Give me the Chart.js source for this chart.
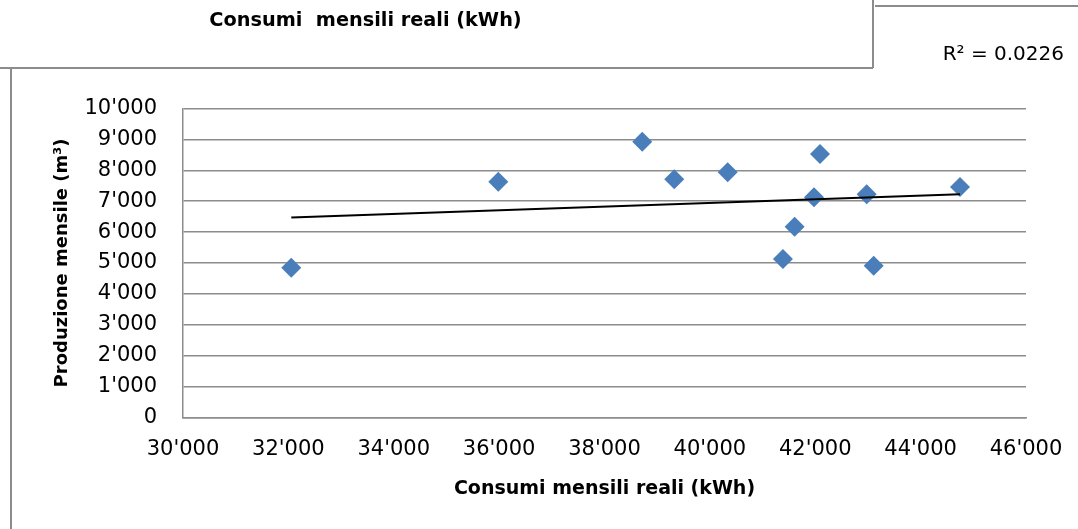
<!DOCTYPE html>
<html>
<head>
<meta charset="utf-8">
<script src="https://cdn.jsdelivr.net/npm/chart.js@4/dist/chart.umd.min.js"></script>
<style>
  html, body { margin: 0; padding: 0; background: #ffffff; }
  #wrap { width: 1078px; height: 529px; position: relative; }
</style>
</head>
<body>
<div id="wrap"><canvas id="c" width="1078" height="529"></canvas></div>
<script>
// ---- data ----
const consumi = [32055, 35984, 38717, 39324, 40338, 41387, 41609, 41976, 42090, 42976, 43109, 44747];
const produzione = [4848, 7630, 8926, 7709, 7935, 5129, 6175, 7126, 8528, 7223, 4913, 7460];
const xTicks = [30000, 32000, 34000, 36000, 38000, 40000, 42000, 44000, 46000];
const yTicks = [0, 1000, 2000, 3000, 4000, 5000, 6000, 7000, 8000, 9000, 10000];
const chartTitle = 'Consumi  mensili reali (kWh)';
const xTitle = 'Consumi mensili reali (kWh)';
const yTitle = 'Produzione mensile (m³)';
const r2Label = 'R² = 0.0226';

// linear trend (least squares) from the data
function linFit(xs, ys) {
  const n = xs.length;
  const mx = xs.reduce((a, b) => a + b, 0) / n;
  const my = ys.reduce((a, b) => a + b, 0) / n;
  let sxy = 0, sxx = 0;
  for (let i = 0; i < n; i++) { sxy += (xs[i] - mx) * (ys[i] - my); sxx += (xs[i] - mx) ** 2; }
  const b = sxy / sxx;
  return { a: my - b * mx, b };
}
const fit = linFit(consumi, produzione);
const xMin = Math.min(...consumi), xMax = Math.max(...consumi);
const trend = [{ x: xMin, y: fit.a + fit.b * xMin }, { x: xMax, y: fit.a + fit.b * xMax }];

const fmt = v => Math.round(v).toString().replace(/\B(?=(\d{3})+(?!\d))/g, "'");

const FONT = 'DejaVu Sans';

const decor = {
  id: 'decor',
  beforeDraw(chart) {
    const ctx = chart.ctx;
    ctx.save();
    ctx.fillStyle = '#ffffff';
    ctx.fillRect(0, 0, chart.width, chart.height);
    ctx.restore();
  },
  afterDraw(chart) {
    const ctx = chart.ctx;
    ctx.save();
    ctx.strokeStyle = '#8c8c8c';
    ctx.lineWidth = 2;
    ctx.beginPath();
    ctx.moveTo(0, 68); ctx.lineTo(873, 68);
    ctx.moveTo(873, 0); ctx.lineTo(873, 68);
    ctx.moveTo(875, 6); ctx.lineTo(1078, 6);
    ctx.moveTo(11, 68); ctx.lineTo(11, 529);
    ctx.stroke();
    ctx.fillStyle = '#000000';
    ctx.font = 'bold 19.3px "' + FONT + '"';
    ctx.textAlign = 'center';
    ctx.textBaseline = 'middle';
    ctx.fillText(chartTitle, 365.5, 21);
    ctx.font = '20px "' + FONT + '"';
    ctx.textAlign = 'right';
    ctx.fillText(r2Label, 1064, 55);
    ctx.restore();
  }
};

new Chart(document.getElementById('c'), {
  type: 'scatter',
  data: {
    datasets: [
      {
        label: 'Produzione',
        data: consumi.map((x, i) => ({ x, y: produzione[i] })),
        pointStyle: 'rectRot',
        pointRadius: 10,
        pointHoverRadius: 10,
        backgroundColor: '#4A7EBB',
        borderColor: '#4A7EBB',
        borderWidth: 0,
        order: 1
      },
      {
        type: 'line',
        label: 'Trend',
        data: trend,
        borderColor: '#000000',
        borderWidth: 2,
        pointRadius: 0,
        fill: false,
        order: 0
      }
    ]
  },
  options: {
    responsive: false,
    animation: false,
    devicePixelRatio: 1,
    layout: { padding: { left: 0, right: 52, top: 108.5, bottom: 0 } },
    plugins: { legend: { display: false }, tooltip: { enabled: false }, title: { display: false } },
    scales: {
      x: {
        type: 'linear',
        min: 30000, max: 46000,
        afterBuildTicks: s => { s.ticks = xTicks.map(v => ({ value: v })); },
        afterFit: s => { s.height = 111.5; s.paddingLeft = 0; s.paddingRight = 0; },
        grid: { display: false, drawTicks: false },
        border: { display: true, color: '#8c8c8c', width: 1.5 },
        ticks: { padding: 19, color: '#000', font: { family: FONT, size: 21 }, callback: v => fmt(v), maxRotation: 0, autoSkip: false },
        title: { display: true, text: xTitle, color: '#000', font: { family: FONT, size: 19, weight: 'bold' }, padding: { top: 0, bottom: 28.6 } }
      },
      y: {
        type: 'linear',
        min: 0, max: 10000,
        afterBuildTicks: s => { s.ticks = yTicks.map(v => ({ value: v })); },
        afterFit: s => { s.width = 183; s.paddingTop = 0; s.paddingBottom = 0; },
        grid: { color: '#8c8c8c', lineWidth: 1.5, drawTicks: false },
        border: { display: true, color: '#8c8c8c', width: 1.5 },
        ticks: { padding: 26, color: '#000', font: { family: FONT, size: 21 }, callback: v => fmt(v), autoSkip: false },
        title: { display: true, text: yTitle, color: '#000', font: { family: FONT, size: 18, weight: 'bold' }, padding: { top: 52, bottom: 0 } }
      }
    }
  },
  plugins: [decor]
});
</script>
</body>
</html>
